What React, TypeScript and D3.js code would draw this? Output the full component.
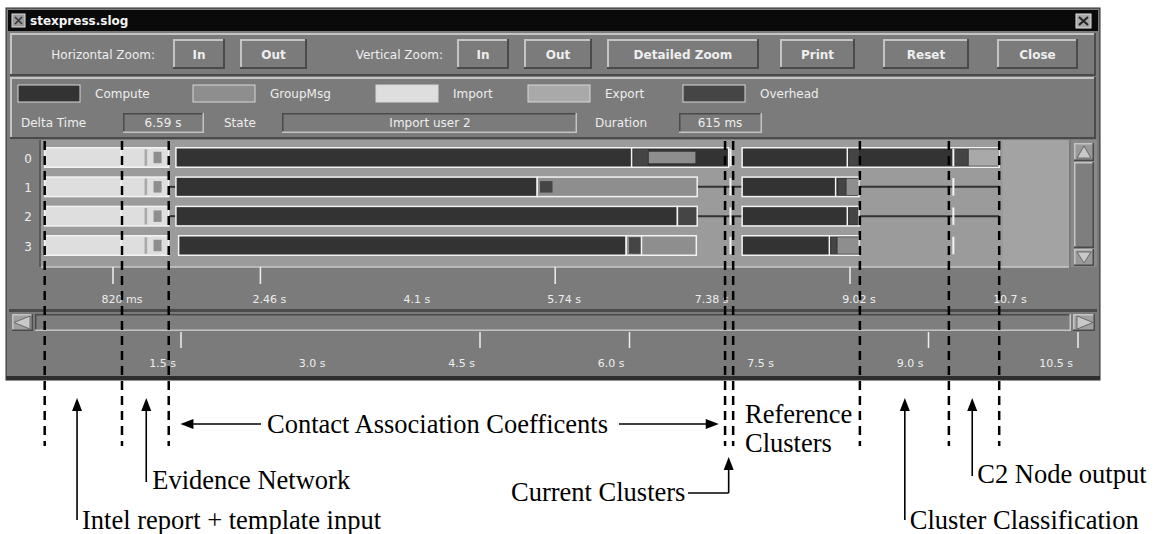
import React from "react";
import * as d3 from "d3";

// ---------- data ----------
const rowLabels = ["0", "1", "2", "3"];
const topTickValues = [0.82, 2.46, 4.1, 5.74, 7.38, 9.02, 10.7];
const topTickLabels = ["820 ms", "2.46 s", "4.1 s", "5.74 s", "7.38 s", "9.02 s", "10.7 s"];
const topTickMarks = [0.82, 2.46, 5.74, 9.02];
const bottomTickValues = [1.5, 3.0, 4.5, 6.0, 7.5, 9.0, 10.5];
const bottomTickLabels = ["1.5 s", "3.0 s", "4.5 s", "6.0 s", "7.5 s", "9.0 s", "10.5 s"];
const bottomTickMarks = [1.5, 4.5, 6.0, 9.0, 10.5];

const legendNames = ["Compute", "GroupMsg", "Import", "Export", "Overhead"];
const legendColors = ["#333333", "#8e8e8e", "#dedede", "#a9a9a9", "#454545"];

type Seg = [string, number, number, number]; // state, start (s), end (s), nesting level

const importBlock: Seg[] = [
  ["Import", 0.06, 1.44, 0],
  ["Export", 1.16, 1.2, 1],
  ["GroupMsg", 1.26, 1.36, 2],
];
const row0: Seg[] = [
  ...importBlock,
  ["Compute", 1.52, 7.67, 0],
  ["Overhead", 6.6, 6.77, 1],
  ["GroupMsg", 6.77, 7.3, 2],
  ["Compute", 7.82, 10.68, 0],
  ["Overhead", 9.0, 9.12, 1],
  ["Overhead", 10.17, 10.33, 1],
  ["Export", 10.33, 10.68, 1],
];
const row1: Seg[] = [
  ...importBlock,
  ["Compute", 1.52, 5.54, 0],
  ["GroupMsg", 5.54, 7.32, 0],
  ["Overhead", 5.56, 5.71, 2],
  ["Compute", 7.82, 9.12, 0],
  ["Overhead", 8.88, 8.97, 1],
  ["GroupMsg", 8.97, 9.11, 1],
];
const row2: Seg[] = [
  ...importBlock,
  ["Compute", 1.52, 7.1, 0],
  ["Overhead", 7.1, 7.32, 0],
  ["Compute", 7.82, 9.12, 0],
  ["Overhead", 9.0, 9.11, 1],
];
const row3: Seg[] = [
  ...importBlock,
  ["Compute", 1.55, 6.53, 0],
  ["GroupMsg", 6.53, 7.31, 0],
  ["Overhead", 6.55, 6.7, 1],
  ["Compute", 7.82, 9.12, 0],
  ["Overhead", 8.8, 8.87, 1],
  ["GroupMsg", 8.87, 9.11, 1],
];
const rowStates = [row0, row1, row2, row3];
const rowMessages: [number, number][][] = [
  [],
  [[1.44, 1.52], [7.32, 7.82], [9.12, 10.68]],
  [[1.44, 1.52], [7.32, 7.82], [9.12, 10.68]],
  [],
];
const rowBoundaries = [[0.91, 6.59, 8.99], [0.91, 8.86], [0.91, 8.99], [0.91, 6.7, 8.79]];
const eventTimes = [7.69, 10.17];
const guideTimes = [0.06, 0.92, 1.44, 7.63, 7.72, 9.13, 10.12, 10.68];
const dataEnd = 10.72;

const buttonLabels = ["In", "Out", "In", "Out", "Detailed Zoom", "Print", "Reset", "Close"];

// ---------- layout ----------
const W = 1160;
const H = 534;
const x = d3.scaleLinear().domain([0.82, 9.02]).range([113, 850]);
const xb = d3.scaleLinear().domain([1.5, 10.5]).range([181, 1078]);
const yRow = d3.scalePoint<string>().domain(rowLabels).range([157.5, 245.5]);
const color = d3.scaleOrdinal<string, string>().domain(legendNames).range(legendColors);
const barH = 19.5;

const BG = "#7b7b7b";
const PANEL = "#9b9b9b";
const LIGHT = "#c4c4c4";
const DARK = "#4a4a4a";
const UI_FONT = "'DejaVu Sans', sans-serif";
const UI_TEXT = "#eeeeee";
const SERIF = "'Liberation Serif', 'Times New Roman', serif";

const buttonX = [173, 240, 457, 524, 607, 780, 883, 997];
const buttonW = [52, 67, 52, 68, 152, 75, 86, 81];
const legendX = [18, 193, 376, 528, 683];

function Bevel(p: { x: number; y: number; w: number; h: number; fill: string; sunken?: boolean; bw?: number }) {
  const bw = p.bw ?? 2;
  const tl = p.sunken ? DARK : LIGHT;
  const br = p.sunken ? LIGHT : DARK;
  return (
    <g>
      <rect x={p.x} y={p.y} width={p.w} height={p.h} fill={p.fill} />
      <rect x={p.x} y={p.y} width={p.w} height={bw} fill={tl} />
      <rect x={p.x} y={p.y} width={bw} height={p.h} fill={tl} />
      <rect x={p.x} y={p.y + p.h - bw} width={p.w} height={bw} fill={br} />
      <rect x={p.x + p.w - bw} y={p.y} width={bw} height={p.h} fill={br} />
    </g>
  );
}

function UpArrow({ ax, tip, bottom }: { ax: number; tip: number; bottom: number }) {
  return (
    <g>
      <line x1={ax} x2={ax} y1={tip + 10} y2={bottom} stroke="#000" strokeWidth={1.6} />
      <path d={`M${ax},${tip} L${ax - 5},${tip + 13} L${ax + 5},${tip + 13} Z`} fill="#000" />
    </g>
  );
}

function HArrow({ x1, x2, y }: { x1: number; x2: number; y: number }) {
  const dir = x2 > x1 ? 1 : -1;
  return (
    <g>
      <line x1={x1} x2={x2 - dir * 10} y1={y} y2={y} stroke="#000" strokeWidth={1.6} />
      <path d={`M${x2},${y} L${x2 - dir * 13},${y - 5} L${x2 - dir * 13},${y + 5} Z`} fill="#000" />
    </g>
  );
}

export default function App() {
  const panelL = 41;
  const panelR = 1069;
  const panelT = 140;
  const panelB = 267;

  return (
    <svg
      width={W}
      height={H}
      viewBox={`0 0 ${W} ${H}`}
      style={{ position: "absolute", left: 0, top: 0, background: "#fff" }}
    >
      {/* window frame */}
      <rect x={6} y={8} width={1094} height={372} fill={BG} stroke="#2a2a2a" strokeWidth={1} />
      <rect x={6} y={376} width={1094} height={4} fill="#2e2e2e" />
      {/* title bar */}
      <rect x={8} y={10} width={1090} height={21} fill="#0a0a0a" />
      <rect x={12} y={14} width={13} height={13} fill="#9a9a9a" stroke="#ddd" strokeWidth={1} />
      <path d="M15,17 L22,24 M22,17 L15,24" stroke="#333" strokeWidth={1.5} />
      <text x={30} y={25} fontFamily={UI_FONT} fontSize={12} fontWeight="bold" fill="#f4f4f4">
        stexpress.slog
      </text>
      <rect x={1076} y={14} width={15} height={14} fill="#a8a8a8" stroke="#e0e0e0" strokeWidth={1} />
      <path d="M1079,17 L1088,25 M1088,17 L1079,25" stroke="#222" strokeWidth={2} />

      {/* button bar */}
      <Bevel x={10} y={33} w={1086} h={43} fill={BG} />
      <text x={155} y={59} textAnchor="end" fontFamily={UI_FONT} fontSize={12} fill={UI_TEXT}>
        Horizontal Zoom:
      </text>
      <text x={443} y={59} textAnchor="end" fontFamily={UI_FONT} fontSize={12} fill={UI_TEXT}>
        Vertical Zoom:
      </text>
      {buttonLabels.map((b, i) => (
        <g key={"b" + i}>
          <Bevel x={buttonX[i]} y={39} w={buttonW[i]} h={30} fill={BG} />
          <text
            x={buttonX[i] + buttonW[i] / 2}
            y={59}
            textAnchor="middle"
            fontFamily={UI_FONT}
            fontSize={12}
            fontWeight="bold"
            fill={UI_TEXT}
          >
            {b}
          </text>
        </g>
      ))}

      {/* legend + info panel */}
      <Bevel x={10} y={77} w={1086} h={62} fill={BG} />
      {legendNames.map((n, i) => (
        <g key={"l" + i}>
          <rect x={legendX[i]} y={85} width={62} height={17} fill={color(n)} stroke="#d8d8d8" strokeWidth={1} />
          <text x={legendX[i] + 77} y={98} fontFamily={UI_FONT} fontSize={12} fill={UI_TEXT}>
            {n}
          </text>
        </g>
      ))}
      <text x={21} y={127} fontFamily={UI_FONT} fontSize={12} fill={UI_TEXT}>
        Delta Time
      </text>
      <Bevel x={123} y={113} w={81} h={20} fill={BG} sunken bw={1.5} />
      <text x={163} y={127} textAnchor="middle" fontFamily={UI_FONT} fontSize={12} fill={UI_TEXT}>
        6.59 s
      </text>
      <text x={224} y={127} fontFamily={UI_FONT} fontSize={12} fill={UI_TEXT}>
        State
      </text>
      <Bevel x={282} y={113} w={295} h={20} fill={BG} sunken bw={1.5} />
      <text x={430} y={127} textAnchor="middle" fontFamily={UI_FONT} fontSize={12} fill={UI_TEXT}>
        Import  user 2
      </text>
      <text x={595} y={127} fontFamily={UI_FONT} fontSize={12} fill={UI_TEXT}>
        Duration
      </text>
      <Bevel x={679} y={113} w={83} h={20} fill={BG} sunken bw={1.5} />
      <text x={720} y={127} textAnchor="middle" fontFamily={UI_FONT} fontSize={12} fill={UI_TEXT}>
        615 ms
      </text>

      {/* chart panel */}
      <rect x={9} y={panelT} width={panelL - 9} height={panelB - panelT} fill={BG} />
      <rect x={panelL - 2} y={panelT} width={2} height={panelB - panelT} fill="#5a5a5a" />
      <rect x={panelL} y={panelT} width={panelR - panelL} height={panelB - panelT} fill={PANEL} />
      <rect x={x(dataEnd)} y={panelT} width={panelR - x(dataEnd)} height={panelB - panelT} fill="#a3a3a3" />
      <line x1={panelL} x2={panelR} y1={panelB} y2={panelB} stroke="#c8c8c8" strokeWidth={1.5} />
      {/* vertical scrollbar */}
      <rect x={1071} y={panelT} width={26} height={panelB - panelT} fill="#8a8a8a" />
      <Bevel x={1074} y={143} w={20} h={18} fill="#9a9a9a" bw={1.5} />
      <path d="M1084,146 L1077,158 L1091,158 Z" fill="#c8c8c8" stroke="#555" strokeWidth={0.8} />
      <Bevel x={1074} y={162} w={20} h={86} fill="#7e7e7e" bw={1.5} />
      <Bevel x={1074} y={249} w={20} h={17} fill="#9a9a9a" bw={1.5} />
      <path d="M1084,263 L1077,252 L1091,252 Z" fill="#c8c8c8" stroke="#555" strokeWidth={0.8} />

      {/* row labels */}
      {rowLabels.map((r) => (
        <text key={"rl" + r} x={28} y={(yRow(r) ?? 0) + 5} fontFamily={UI_FONT} fontSize={12} fill={UI_TEXT} textAnchor="middle">
          {r}
        </text>
      ))}

      {/* rows */}
      {rowLabels.map((r, ri) => {
        const c = yRow(r) ?? 0;
        const segs = rowStates[ri];
        const sorted = [...segs].sort((a, b) => a[3] - b[3]);
        return (
          <g key={"row" + r}>
            {rowMessages[ri].map(([s, e], k) => (
              <line key={"m" + k} x1={x(s)} x2={x(e)} y1={c} y2={c} stroke="#333" strokeWidth={2} />
            ))}
            {sorted.map(([t, s, e, lvl], k) => {
              const inset = lvl === 0 ? 0 : lvl === 1 ? 1.5 : 4;
              return (
                <rect
                  key={"s" + k}
                  x={x(s) + (lvl === 0 ? 0 : 1)}
                  y={c - barH / 2 + inset}
                  width={Math.max(1, x(e) - x(s) - (lvl === 0 ? 0 : 1))}
                  height={barH - inset * 2}
                  fill={color(t)}
                  stroke={lvl === 0 ? "#f2f2f2" : "none"}
                  strokeWidth={lvl === 0 ? 1.5 : 0}
                />
              );
            })}
            {rowBoundaries[ri].map((b, k) => (
              <line key={"bd" + k} x1={x(b)} x2={x(b)} y1={c - barH / 2} y2={c + barH / 2} stroke="#f2f2f2" strokeWidth={1.5} />
            ))}
            {eventTimes.map((b, k) => (
              <line key={"ev" + k} x1={x(b)} x2={x(b)} y1={c - barH / 2 + 1} y2={c + barH / 2 - 1} stroke="#f4f4f4" strokeWidth={2} />
            ))}
          </g>
        );
      })}

      {/* top axis */}
      {topTickMarks.map((v, i) => (
        <line key={"tt" + i} x1={x(v)} x2={x(v)} y1={panelB} y2={284} stroke="#eeeeee" strokeWidth={1.5} />
      ))}
      {topTickValues.map((v, i) => (
        <text key={"tl" + i} x={x(v) + 9} y={303} textAnchor="middle" fontFamily={UI_FONT} fontSize={11} fill={UI_TEXT}>
          {topTickLabels[i]}
        </text>
      ))}

      {/* horizontal scrollbar */}
      <rect x={9} y={309} width={1088} height={3} fill="#4a4a4a" />
      <rect x={9} y={313} width={1088} height={18} fill={BG} />
      <Bevel x={35} y={314} w={1036} h={17} fill="#7e7e7e" sunken bw={1.5} />
      <Bevel x={12} y={314} w={21} h={17} fill="#a0a0a0" bw={1.5} />
      <path d="M14,322.5 L30,316 L30,329 Z" fill="#c8c8c8" stroke="#555" strokeWidth={0.8} />
      <Bevel x={1073} y={314} w={22} h={17} fill="#a0a0a0" bw={1.5} />
      <path d="M1093,322.5 L1077,316 L1077,329 Z" fill="#c8c8c8" stroke="#555" strokeWidth={0.8} />

      {/* bottom axis */}
      {bottomTickMarks.map((v, i) => (
        <line key={"bt" + i} x1={xb(v)} x2={xb(v)} y1={332} y2={348} stroke="#eeeeee" strokeWidth={1.5} />
      ))}
      {bottomTickValues.map((v, i) => (
        <text key={"bl" + i} x={xb(v) - 5} y={367} textAnchor="end" fontFamily={UI_FONT} fontSize={11} fill={UI_TEXT}>
          {bottomTickLabels[i]}
        </text>
      ))}

      {/* dashed guide lines */}
      {guideTimes.map((g, i) => (
        <line
          key={"g" + i}
          x1={x(g)}
          x2={x(g)}
          y1={141}
          y2={446}
          stroke="#000"
          strokeWidth={2.5}
          strokeDasharray="9,6"
        />
      ))}

      {/* annotations */}
      <g fontFamily={SERIF} fontSize={26.5} fill="#000">
        <HArrow x1={261} x2={x(1.57)} y={424} />
        <text x={267} y={433}>Contact Association Coefficents</text>
        <HArrow x1={619} x2={x(7.56)} y={424} />
        <text x={745} y={423}>Reference</text>
        <text x={745} y={452}>Clusters</text>

        <UpArrow ax={x(0.42)} tip={398} bottom={520} />
        <text x={x(0.42) + 5} y={529}>Intel report + template input</text>

        <UpArrow ax={x(1.19)} tip={398} bottom={482} />
        <text x={x(1.19) + 6} y={489}>Evidence Network</text>

        <text x={511} y={501}>Current Clusters</text>
        <line x1={688} x2={x(7.67)} y1={493} y2={493} stroke="#000" strokeWidth={1.6} />
        <UpArrow ax={x(7.67)} tip={457} bottom={493} />

        <UpArrow ax={x(9.63)} tip={398} bottom={520} />
        <text x={x(9.63) + 5} y={529}>Cluster Classification</text>

        <UpArrow ax={x(10.38)} tip={398} bottom={476} />
        <text x={x(10.38) + 5} y={483}>C2 Node output</text>
      </g>
    </svg>
  );
}
